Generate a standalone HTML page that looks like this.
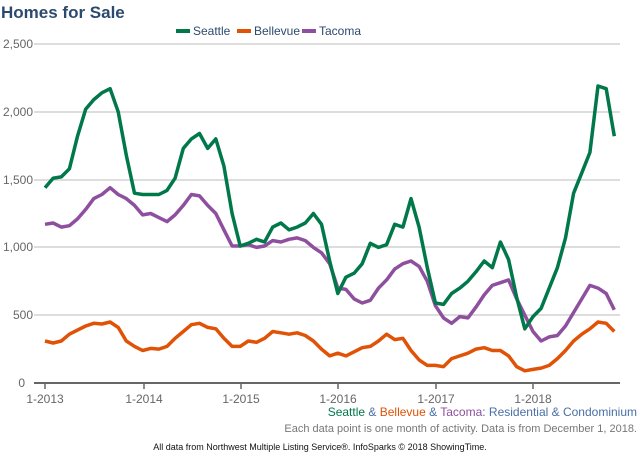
<!DOCTYPE html>
<html><head><meta charset="utf-8"><style>
body{margin:0;background:#fff;width:640px;height:457px;overflow:hidden;font-family:"Liberation Sans",sans-serif}
</style></head><body>
<svg id="s" width="640" height="457" xmlns="http://www.w3.org/2000/svg" font-family="Liberation Sans, sans-serif">
<text x="1" y="18" font-size="17" font-weight="bold" fill="#2c4a6e">Homes for Sale</text>
<rect x="176" y="29" width="14" height="4" fill="#00784a"/><text x="193" y="35" font-size="12" fill="#2c4a6e">Seattle</text>
<rect x="237" y="29" width="14" height="4" fill="#e05206"/><text x="254" y="35" font-size="12" fill="#2c4a6e">Bellevue</text>
<rect x="302" y="29" width="14" height="4" fill="#8e4f9e"/><text x="319" y="35" font-size="12" fill="#2c4a6e">Tacoma</text>
<g stroke="#bbb" stroke-width="1">
<line x1="34" y1="44" x2="620" y2="44"/><line x1="34" y1="112" x2="620" y2="112"/><line x1="34" y1="180" x2="620" y2="180"/><line x1="34" y1="247" x2="620" y2="247"/><line x1="34" y1="315" x2="620" y2="315"/>
</g>
<line x1="34" y1="383" x2="620" y2="383" stroke="#666" stroke-width="2"/>
<g font-size="12" fill="#666" text-anchor="end">
<text x="33" y="48">2,500</text><text x="33" y="116">2,000</text><text x="33" y="184">1,500</text><text x="33" y="251">1,000</text><text x="33" y="319">500</text><text x="25" y="387">0</text>
</g>
<g id="ticks" stroke="#666" stroke-width="1.5"></g>
<g font-size="12" fill="#666" text-anchor="middle">
<text x="45" y="403">1-2013</text><text x="144" y="403">1-2014</text><text x="241" y="403">1-2015</text><text x="338" y="403">1-2016</text><text x="436" y="403">1-2017</text><text x="533" y="403">1-2018</text>
</g>
<g id="lines" fill="none" stroke-width="3.5" stroke-linejoin="round"></g>
<text x="637" y="416" font-size="12" text-anchor="end" fill="#4a6fa5"><tspan fill="#00784a">Seattle</tspan> &amp; <tspan fill="#e05206">Bellevue</tspan> &amp; <tspan fill="#8e4f9e">Tacoma</tspan>: Residential &amp; Condominium</text>
<text x="637" y="432" font-size="11" text-anchor="end" fill="#777">Each data point is one month of activity. Data is from December 1, 2018.</text>
<text x="320" y="450" font-size="9" text-anchor="middle" fill="#111">All data from Northwest Multiple Listing Service®. InfoSparks © 2018 ShowingTime.</text>
</svg>
<script>
var S=[1440,1510,1520,1580,1820,2020,2090,2140,2170,2000,1680,1400,1390,1390,1390,1420,1510,1730,1800,1840,1730,1800,1600,1250,1010,1030,1060,1040,1150,1180,1130,1150,1180,1250,1170,900,660,780,810,880,1030,1000,1020,1170,1150,1360,1150,850,590,580,660,700,750,820,900,850,1040,910,630,400,490,550,700,850,1070,1400,1550,1700,2190,2170,1820];
var B=[310,295,310,360,390,420,440,435,450,410,310,270,240,255,250,270,330,380,430,440,410,400,330,270,270,310,300,330,380,370,360,370,350,310,250,200,220,200,230,260,270,310,360,320,330,240,170,130,130,120,180,200,220,250,260,240,240,200,120,90,100,110,130,180,240,310,360,400,450,440,380];
var T=[1170,1180,1150,1160,1210,1280,1360,1390,1440,1390,1360,1310,1240,1250,1220,1190,1240,1310,1390,1380,1310,1250,1130,1010,1010,1020,1000,1010,1050,1040,1060,1070,1050,1000,960,880,700,690,620,590,610,700,760,840,880,900,860,750,570,480,440,490,480,560,650,720,740,760,620,500,380,310,340,350,420,520,620,720,700,660,540];
var g=document.getElementById('lines'),ns='http://www.w3.org/2000/svg';
function add(d,c){var p=document.createElementNS(ns,'polyline');p.setAttribute('points',d.map(function(v,i){return (45+i*8.133).toFixed(1)+','+(383-v*0.1356).toFixed(1)}).join(' '));p.setAttribute('stroke',c);g.appendChild(p);}
add(B,'#e05206');add(T,'#8e4f9e');add(S,'#00784a');
var t=document.getElementById('ticks');[45,144,241,338,436,533].forEach(function(x){var l=document.createElementNS(ns,'line');l.setAttribute('x1',x);l.setAttribute('x2',x);l.setAttribute('y1',383);l.setAttribute('y2',389);t.appendChild(l);});
</script>
</body></html>
